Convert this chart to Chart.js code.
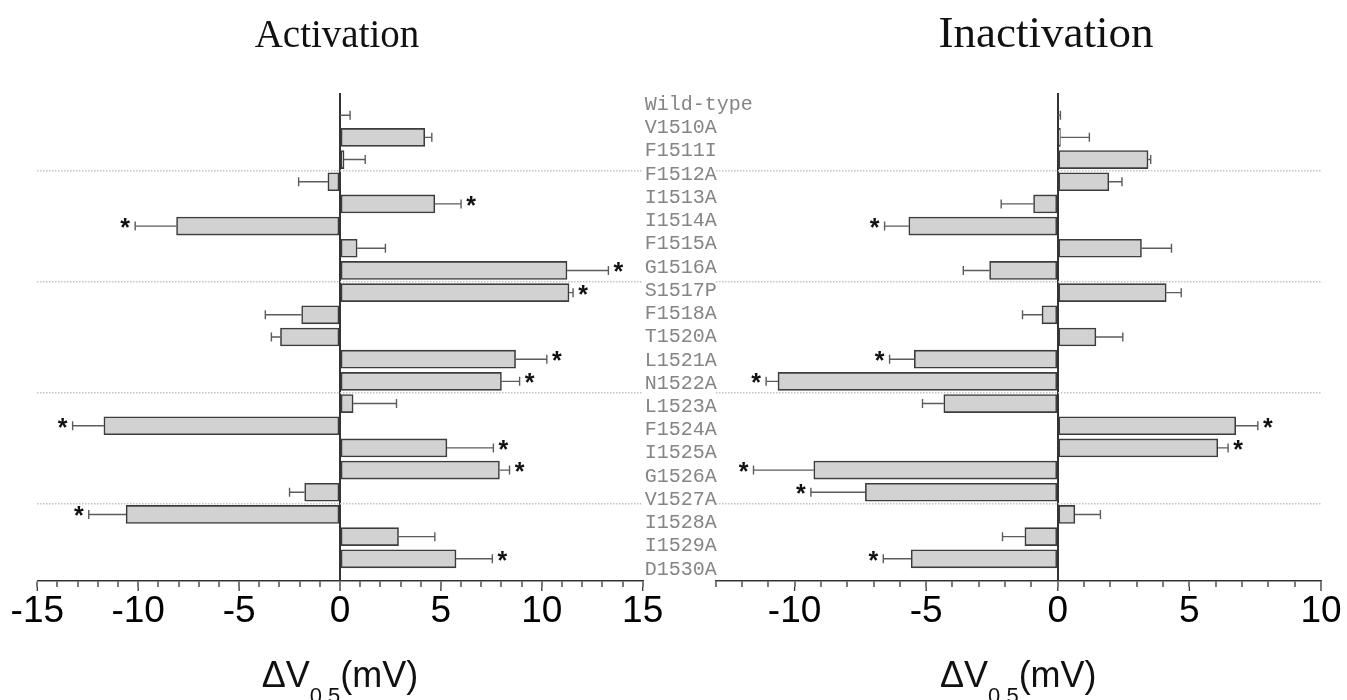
<!DOCTYPE html>
<html><head><meta charset="utf-8">
<script src="https://cdn.jsdelivr.net/npm/chart.js@4.4.1/dist/chart.umd.min.js"></script>
<style>
html,body{margin:0;padding:0;background:#fff;}
#wrap{position:relative;width:1347px;height:700px;overflow:hidden;background:#fff;}
canvas{position:absolute;top:0;}
#cL{left:0}
#cR{left:680px}
</style></head><body>
<div id="wrap"><canvas id="cL" width="800" height="700"></canvas><canvas id="cR" width="667" height="700"></canvas></div>
<script>
// ---- data ----
const categories = ['Wild-type','V1510A','F1511I','F1512A','I1513A','I1514A','F1515A','G1516A','S1517P','F1518A','T1520A','L1521A','N1522A','L1523A','F1524A','I1525A','G1526A','V1527A','I1528A','I1529A','D1530A'];
const actValues   = [0, 4.2, 0.2, -0.6, 4.7, -8.1, 0.85, 11.25, 11.35, -1.9, -2.95, 8.7, 8.0, 0.65, -11.7, 5.3, 7.9, -1.75, -10.6, 2.9, 5.75];
const actErrors   = [0.5, 0.35, 1.05, 1.45, 1.3, 2.05, 1.4, 2.05, 0.2, 1.8, 0.45, 1.55, 0.9, 2.15, 1.55, 2.3, 0.5, 0.75, 1.85, 1.8, 1.8];
const actSig      = [0,0,0,0,1,1,0,1,1,0,0,1,1,0,1,1,1,0,1,0,1];
const inactValues = [0, 0.1, 3.43, 1.94, -0.92, -5.66, 3.18, -2.59, 4.12, -0.6, 1.45, -5.45, -10.63, -4.33, 6.76, 6.08, -9.27, -7.31, 0.65, -1.25, -5.57];
const inactErrors = [0.1, 1.1, 0.1, 0.5, 1.23, 0.92, 1.14, 1.0, 0.57, 0.74, 1.02, 0.94, 0.45, 0.81, 0.84, 0.39, 2.29, 2.07, 0.97, 0.85, 1.06];
const inactSig    = [0,0,0,0,0,1,0,0,0,0,0,1,1,0,1,1,1,1,0,0,1];
const actRange    = [-15, 15];
const inactRange  = [-13, 10];
const gridAt      = [2.5, 7.5, 12.5, 17.5];

Chart.defaults.font.family = '"Liberation Sans", Arial, sans-serif';

const errorBarPlugin = {
  id: 'errbars',
  afterDatasetsDraw(chart, args, opts) {
    const meta = chart.getDatasetMeta(0);
    const xs = chart.scales.x;
    const ctx = chart.ctx;
    ctx.save();
    opts.values.forEach((v, i) => {
      const el = meta.data[i];
      const dir = v < 0 ? -1 : 1;
      const x0 = xs.getPixelForValue(v);
      const x1 = xs.getPixelForValue(v + dir * opts.errors[i]);
      const y = el.y;
      ctx.strokeStyle = '#5c5c5c';
      ctx.lineWidth = 1.4;
      ctx.beginPath();
      ctx.moveTo(x0, y); ctx.lineTo(x1, y);
      ctx.moveTo(x1, y - 4.5); ctx.lineTo(x1, y + 4.5);
      ctx.stroke();
      if (opts.sig[i]) {
        ctx.fillStyle = '#111';
        ctx.font = 'bold 25px "Liberation Sans"';
        ctx.textAlign = 'center';
        ctx.textBaseline = 'alphabetic';
        ctx.fillText('*', x1 + dir * 10, y + 10);
      }
    });
    ctx.restore();
  }
};

const majorTickPlugin = {
  id: 'majorticks',
  afterDraw(chart) {
    const xs = chart.scales.x, ctx = chart.ctx;
    ctx.save();
    ctx.strokeStyle = '#333';
    ctx.lineWidth = 1.3;
    ctx.beginPath();
    xs.ticks.forEach(t => {
      if (t.value % 5 === 0) {
        const px = xs.getPixelForValue(t.value);
        ctx.moveTo(px, xs.top + 6); ctx.lineTo(px, xs.top + 10);
      }
    });
    ctx.stroke();
    ctx.restore();
  }
};

const textPlugin = {
  id: 'texts',
  afterDraw(chart, args, opts) {
    const ctx = chart.ctx, a = chart.chartArea;
    const cx = (a.left + a.right) / 2;
    ctx.save();
    ctx.fillStyle = '#111';
    ctx.textBaseline = 'alphabetic';
    ctx.textAlign = 'center';
    ctx.font = opts.titleFont;
    ctx.fillText(opts.title, cx + opts.titleDx, 47);
    const big = '36px "Liberation Sans"', small = '22px "Liberation Sans"';
    ctx.font = big;
    const w1 = ctx.measureText('\u0394V').width, w3 = ctx.measureText('(mV)').width;
    ctx.font = small;
    const w2 = ctx.measureText('0.5').width;
    let x = cx - (w1 + w2 + w3) / 2;
    ctx.textAlign = 'left';
    ctx.font = big; ctx.fillText('\u0394V', x, 687); x += w1;
    ctx.font = small; ctx.fillText('0.5', x, 703); x += w2;
    ctx.font = big; ctx.fillText('(mV)', x, 687);
    ctx.restore();
  }
};

function makeConfig(values, errors, sig, range, title, titleFont, titleDx, padL, padR, withLabels) {
  const scales = {
    x: {
      type: 'linear', position: 'bottom', min: range[0], max: range[1], offset: false,
      ticks: { stepSize: 1, autoSkip: false, maxRotation: 0, color: '#000', font: { size: 37 }, padding: 3,
               callback: v => (v % 5 === 0 ? String(v) : '') },
      grid: { offset: false, color: c => (c.tick && c.tick.value === 0 ? '#333' : 'rgba(0,0,0,0)'), lineWidth: 2,
              tickColor: '#333', tickWidth: 1.3, tickLength: 6 },
      border: { display: true, color: '#333', width: 1.6 },
      afterFit: s => { s.height = 60; }
    },
    yb: {
      type: 'linear', position: 'left', min: -1, max: 21, reverse: true, offset: false,
      ticks: { display: false },
      grid: { offset: false, color: '#c4c4c4', lineWidth: 1.5, drawTicks: false },
      border: { display: false, dash: [1.5, 1.5] },
      afterBuildTicks: s => { s.ticks = gridAt.map(v => ({ value: v })); },
      afterFit: s => { s.width = 0; }
    }
  };
  if (withLabels) {
    scales.yl = {
      type: 'category', position: 'right', labels: categories, offset: true,
      ticks: { color: '#858585', font: { family: '"Liberation Mono", "Courier New", monospace', size: 20 }, padding: 2, autoSkip: false },
      grid: { display: false, drawTicks: false },
      border: { display: false },
      afterFit: s => { s.width = 157.3; }
    };
  }
  return {
    type: 'bar',
    data: { datasets: [{
      data: values.map((v, i) => ({ x: v, y: i })),
      backgroundColor: '#d2d2d2', borderColor: '#3c3c3c', borderWidth: 1.6, borderSkipped: false,
      barThickness: 18, xAxisID: 'x', yAxisID: 'yb'
    }] },
    options: {
      indexAxis: 'y', responsive: false, animation: false, events: [],
      layout: { padding: { left: padL, right: padR, top: 93, bottom: 59 } },
      plugins: {
        legend: { display: false }, tooltip: { enabled: false },
        errbars: { values: values, errors: errors, sig: sig },
        texts: { title: title, titleFont: titleFont, titleDx: titleDx }
      },
      scales: scales
    },
    plugins: [errorBarPlugin, majorTickPlugin, textPlugin]
  };
}

new Chart(document.getElementById('cL'),
  makeConfig(actValues, actErrors, actSig, actRange, 'Activation', '39px "Liberation Serif"', -3, 37.3, 0, true));
new Chart(document.getElementById('cR'),
  makeConfig(inactValues, inactErrors, inactSig, inactRange, 'Inactivation', '45px "Liberation Serif"', 27.7, 35.6, 26, false));
</script>
</body></html>
